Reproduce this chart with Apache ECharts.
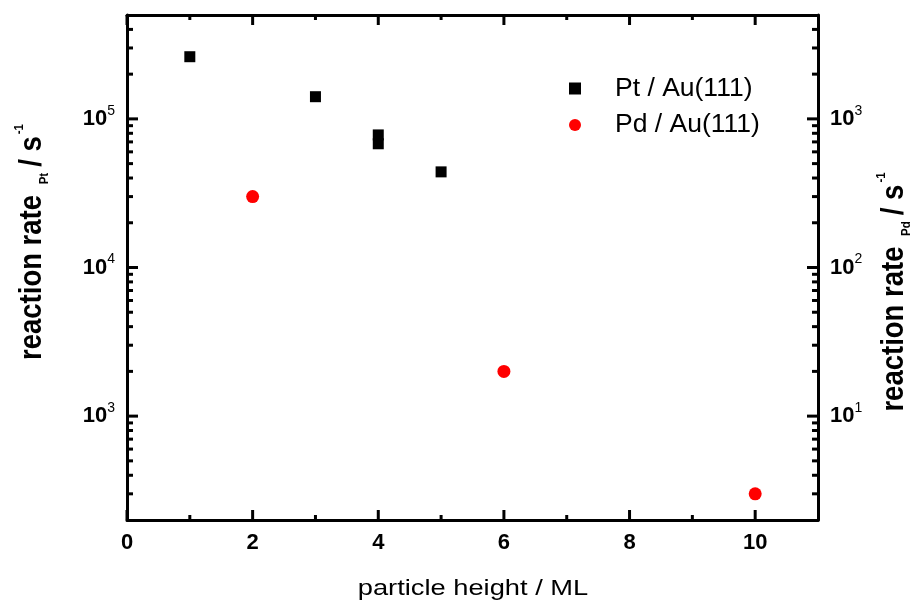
<!DOCTYPE html>
<html>
<head>
<meta charset="utf-8">
<script src="https://cdn.jsdelivr.net/npm/echarts@6/dist/echarts.min.js"></script>
<style>
  html, body { margin: 0; padding: 0; background: #fff; }
  #chart { width: 912px; height: 601px; }
</style>
</head>
<body>
<div id="chart"></div>
<script>
// Particle height (ML) and reaction rate (s^-1) for each catalyst
const heightsPt = [1, 3, 4, 4, 5];
const ratesPt = [262000, 141000, 78000, 68000, 44000];
const heightsPd = [2, 6, 10];
const ratesPd = [300, 20, 3];

// Axis ranges and tick positions
const xRange = [0, 11];
const xMajorTicks = [0, 2, 4, 6, 8, 10];
const xMinorTicks = [1, 3, 5, 7, 9];
const ptRange = [200, 500000];
const ptMajorTicks = [1000, 10000, 100000];
const ptMinorTicks = [300, 400, 500, 600, 700, 800, 900,
  2000, 3000, 4000, 5000, 6000, 7000, 8000, 9000,
  20000, 30000, 40000, 50000, 60000, 70000, 80000, 90000,
  200000, 300000, 400000];
const pdRange = [2, 5000];
const pdMajorTicks = [10, 100, 1000];
const pdMinorTicks = [3, 4, 5, 6, 7, 8, 9,
  20, 30, 40, 50, 60, 70, 80, 90,
  200, 300, 400, 500, 600, 700, 800, 900,
  2000, 3000, 4000];

const FONT = 'Liberation Sans';
const INK = '#000';

const chart = echarts.init(document.getElementById('chart'), null, { renderer: 'canvas' });

function axisLineStyle(show) {
  return { show: show, onZero: false, lineStyle: { color: INK, width: 3 } };
}
const noTick = { show: false };
const noLabel = { show: false };
const noSplit = { show: false };

const powRich = {
  b: { fontFamily: FONT, fontSize: 22, fontWeight: 'bold', color: INK, lineHeight: 30 },
  s: { fontFamily: FONT, fontSize: 14, color: INK, lineHeight: 14, verticalAlign: 'top' }
};
function powLabel(v) {
  return '{b|10}{s|' + Math.round(Math.log10(v)) + '}';
}

function yAxisDef(position, range) {
  return {
    type: 'log', logBase: 10, position: position, min: range[0], max: range[1],
    axisLine: axisLineStyle(true),
    axisTick: noTick,
    axisLabel: {
      showMinLabel: false, showMaxLabel: false,
      margin: 12, formatter: powLabel, rich: powRich
    },
    splitLine: noSplit,
    minorTick: { show: false }
  };
}

// Inward frame ticks: each entry is a point on the frame (through the scales) plus a pixel offset
function tickSeries(yAxisIndex, points, dx, dy) {
  return {
    type: 'custom', xAxisIndex: 0, yAxisIndex: yAxisIndex, silent: true, clip: false, z: 3,
    data: points,
    renderItem: function (params, api) {
      const p = api.coord([api.value(0), api.value(1)]);
      return {
        type: 'line',
        shape: { x1: p[0], y1: p[1], x2: p[0] + dx, y2: p[1] + dy },
        style: { stroke: INK, lineWidth: 3 }
      };
    }
  };
}
const atBottom = xs => xs.map(x => [x, ptRange[0]]);
const atTop = xs => xs.map(x => [x, ptRange[1]]);
const atLeft = ys => ys.map(y => [xRange[0], y]);
const atRight = ys => ys.map(y => [xRange[1], y]);

const titleRich = {
  m: { fontFamily: FONT, fontSize: 27.5, fontWeight: 'bold', fill: INK, lineHeight: 34 },
  sb: { fontFamily: FONT, fontSize: 11.5, fontWeight: 'bold', fill: INK, lineHeight: 11, verticalAlign: 'bottom', padding: [0, 6, 0, 3] },
  sp: { fontFamily: FONT, fontSize: 11.5, fontWeight: 'bold', fill: INK, lineHeight: 11, verticalAlign: 'top', padding: [0, 0, 0, 2] }
};

const option = {
  backgroundColor: '#fff',
  animation: false,
  grid: { left: 127, right: 94, top: 15, bottom: 81, outerBoundsMode: 'none', show: false },
  legend: {
    orient: 'vertical', left: 569, top: 75, padding: 0,
    itemWidth: 12, itemHeight: 12, itemGap: 9.5,
    textStyle: { fontFamily: FONT, fontSize: 26.5, color: INK, lineHeight: 26, padding: [0, 0, 0, 29] },
    data: [
      { name: 'Pt / Au(111)', icon: 'rect' },
      { name: 'Pd / Au(111)', icon: 'circle' }
    ]
  },
  xAxis: [
    {
      type: 'value', position: 'bottom', min: xRange[0], max: xRange[1], interval: 2,
      axisLine: axisLineStyle(true), axisTick: noTick,
      axisLabel: { showMaxLabel: false, margin: 12, color: INK, fontFamily: FONT, fontSize: 22, fontWeight: 'bold' },
      splitLine: noSplit
    },
    {
      type: 'value', position: 'top', min: xRange[0], max: xRange[1], interval: 2,
      axisLine: axisLineStyle(true), axisTick: noTick, axisLabel: noLabel, splitLine: noSplit
    }
  ],
  yAxis: [
    yAxisDef('left', ptRange),
    yAxisDef('right', pdRange)
  ],
  series: [
    {
      name: 'Pt / Au(111)', type: 'scatter', xAxisIndex: 0, yAxisIndex: 0,
      symbol: 'rect', symbolSize: 11, itemStyle: { color: '#000', opacity: 1 },
      data: heightsPt.map((h, i) => [h, ratesPt[i]])
    },
    {
      name: 'Pd / Au(111)', type: 'scatter', xAxisIndex: 0, yAxisIndex: 1,
      symbol: 'circle', symbolSize: 13, itemStyle: { color: '#ff0000', opacity: 1 },
      data: heightsPd.map((h, i) => [h, ratesPd[i]])
    },
    tickSeries(0, atBottom(xMajorTicks), 0, -10),
    tickSeries(0, atBottom(xMinorTicks), 0, -5),
    tickSeries(0, atTop(xMajorTicks), 0, 10),
    tickSeries(0, atTop(xMinorTicks), 0, 5),
    tickSeries(0, atLeft(ptMajorTicks), 11, 0),
    tickSeries(0, atLeft(ptMinorTicks), 6, 0),
    tickSeries(1, atRight(pdMajorTicks), -11, 0),
    tickSeries(1, atRight(pdMinorTicks), -6, 0)
  ],
  graphic: [
    {
      type: 'text', x: 473, y: 589, scaleX: 1.24,
      style: { text: 'particle height / ML', fontFamily: FONT, fontSize: 22, fill: INK, align: 'center', verticalAlign: 'middle' }
    },
    {
      type: 'text', x: 32, y: 242, rotation: Math.PI / 2, scaleY: 1.15,
      style: { text: '{m|reaction rate }{sb|Pt}{m|/ s}{sp|-1}', rich: titleRich, align: 'center', verticalAlign: 'middle' }
    },
    {
      type: 'text', x: 894, y: 292, rotation: Math.PI / 2, scaleY: 1.15,
      style: { text: '{m|reaction rate }{sb|Pd}{m|/ s}{sp|-1}', rich: titleRich, align: 'center', verticalAlign: 'middle' }
    }
  ]
};

chart.setOption(option);
</script>
</body>
</html>
